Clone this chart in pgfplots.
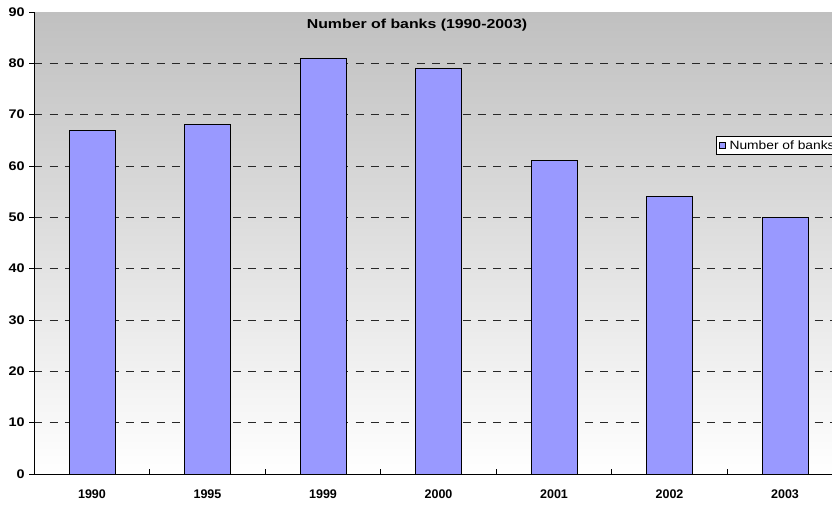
\documentclass[border=0pt]{standalone}
\usepackage{fontspec}
\setmainfont{Liberation Sans}
\newfontfamily\titlefont[FakeStretch=1.22]{Liberation Sans}
\newfontfamily\legendfont[FakeStretch=1.15]{Liberation Sans}
\newfontfamily\yfont[FakeStretch=1.15]{Liberation Sans}
\usepackage{pgfplots}
\pgfplotsset{compat=1.18}
\definecolor{barblue}{RGB}{153,153,255}
\definecolor{bgtop}{RGB}{192,192,192}
\definecolor{gridc}{RGB}{40,40,40}
\begin{document}
\begin{tikzpicture}[x=1pt,y=1pt]
\begin{axis}[
  at={(34.25pt,30pt)}, anchor=south west,
  scale only axis,
  width=808.5pt, height=462pt,
  xmin=-0.5, xmax=6.5, ymin=0, ymax=90,
  enlargelimits=false,
  ybar, bar width=46pt,
  axis background/.style={top color=bgtop, bottom color=white},
  axis x line*=bottom, axis y line*=left,
  axis line style={-, black, line width=0.9pt},
  xtick={0,1,2,3,4,5,6},
  xticklabels={1990,1995,1999,2000,2001,2002,2003},
  extra x ticks={0.5,1.5,2.5,3.5,4.5,5.5},
  extra x tick labels={},
  xtick align=inside,
  ytick={0,10,20,30,40,50,60,70,80},
  extra y ticks={90},
  extra y tick style={grid=none},
  ytick align=outside,
  major tick length=5pt,
  tick style={black, line width=0.8pt},
  ymajorgrids,
  grid style={gridc, line width=0.9pt, dash pattern=on 8pt off 7.3pt},
  /pgf/number format/assume math mode=true,
  xticklabel style={font=\bfseries\fontsize{12.5}{14}\selectfont, yshift=-12pt},
  yticklabel style={font=\yfont\bfseries\fontsize{12.5}{14}\selectfont, xshift=-1pt},
  title={Number of banks (1990-2003)},
  title style={at={(axis description cs:0.4734,0.9517)}, anchor=base, font=\titlefont\bfseries\fontsize{13}{15}\selectfont, inner sep=0pt},
  legend style={at={(axis description cs:0.8432,0.7316)}, anchor=north west,
    draw=black, line width=0.8pt, fill=white, inner xsep=2.5pt, inner ysep=2.5pt,
    font=\legendfont\fontsize{12}{14}\selectfont,
    nodes={inner sep=1.5pt},
    /tikz/every even column/.append style={column sep=0pt},
    /tikz/every odd column/.append style={column sep=2.5pt}},
]
\addplot[fill=barblue, draw=black, line width=0.9pt,
  legend image code/.code={\draw[fill=barblue,draw=black,line width=0.7pt] (0pt,-3pt) rectangle (6pt,3pt);}]
  coordinates {(0,67) (1,68) (2,81) (3,79) (4,61) (5,54) (6,50)};
\addlegendentry{Number of banks}
\end{axis}
\pgfresetboundingbox
\path[use as bounding box] (0,0) rectangle (832pt,504pt);
\end{tikzpicture}
\end{document}
